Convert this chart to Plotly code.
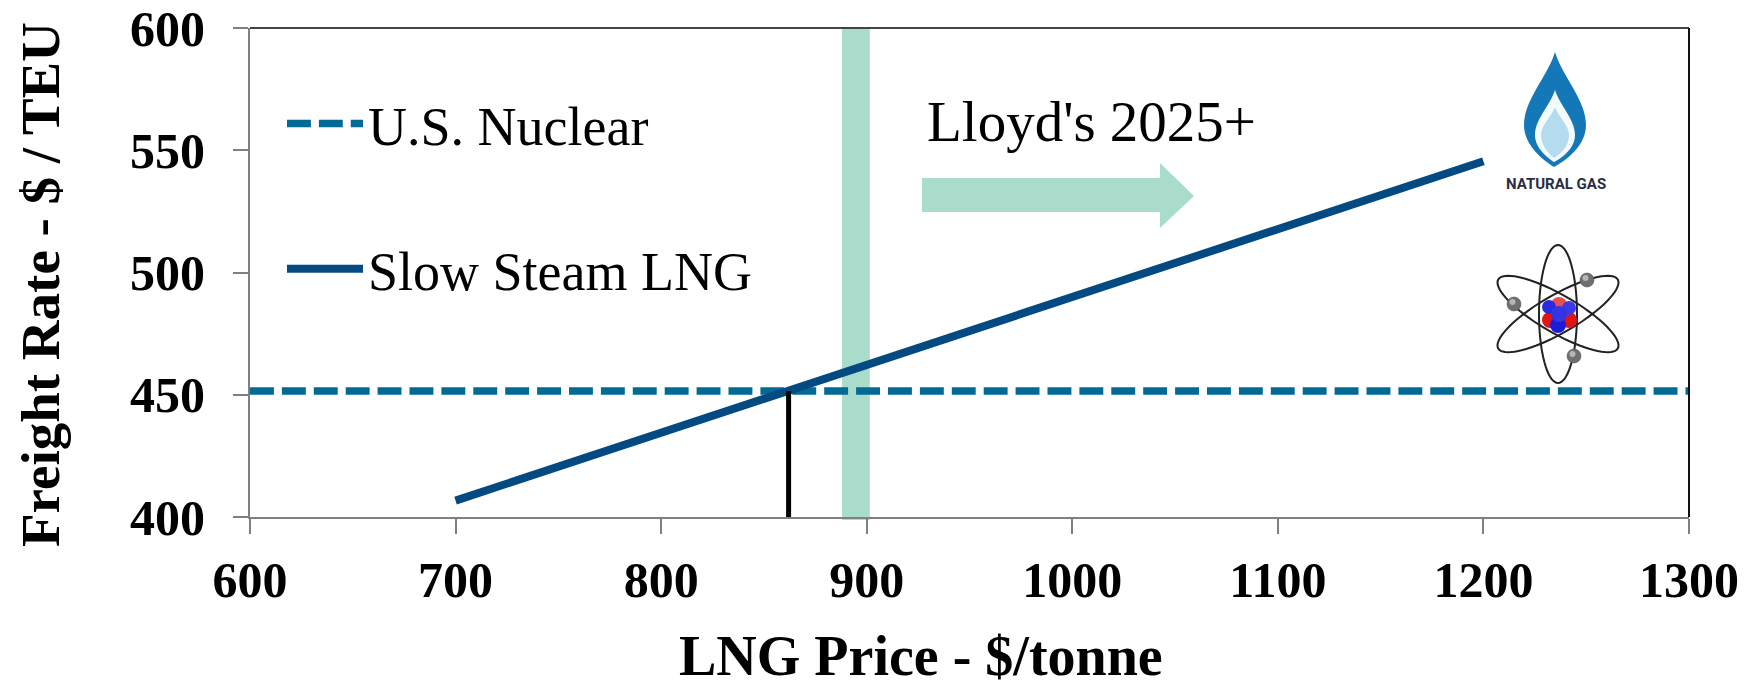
import numpy as np
import plotly.graph_objects as go

W, H = 1748, 687
L, R, T, B = 250, 1689, 28, 517
PAGE = 8  # the page's own margin around the figure

nuclear_x = [600, 1300]
nuclear_y = [451.5, 451.5]
lng_x = [700, 1200]
lng_y = [406.7, 545.5]
cross_x = [862, 862]
cross_y = [398.8, 451.5]
band_x = [888, 901.5]
x_ticks = [600, 700, 800, 900, 1000, 1100, 1200, 1300]
y_ticks = [400, 450, 500, 550, 600]

SERIF = "Liberation Serif"
GREEN = "#a9dccb"


def px(x):
    return (x - L) / (R - L)


def py(y):
    return (B - y) / (B - T)


def path(points):
    out = []
    for item in points:
        cmd, coords = item[0], item[1:]
        pairs = [f"{px(coords[j]):.5f},{py(coords[j + 1]):.5f}" for j in range(0, len(coords), 2)]
        out.append(cmd + " " + " ".join(pairs))
    return " ".join(out) + " Z"


def pshape(d, fill, line="rgba(0,0,0,0)", width=0):
    return dict(type="path", xref="paper", yref="paper", path=d, fillcolor=fill,
                line=dict(color=line, width=width), layer="above")


def drop(cx, top, halfw, widest, bottom):
    return path([
        ("M", cx, top),
        ("C", cx + halfw * 0.25, top + (widest - top) * 0.35, cx + halfw, widest - (widest - top) * 0.35, cx + halfw, widest),
        ("C", cx + halfw, widest + (bottom - widest) * 0.5, cx + halfw * 0.35, bottom - (bottom - widest) * 0.15, cx - 1, bottom),
        ("C", cx - halfw * 0.35, bottom - (bottom - widest) * 0.15, cx - halfw, widest + (bottom - widest) * 0.5, cx - halfw, widest),
        ("C", cx - halfw, widest - (widest - top) * 0.35, cx - halfw * 0.25, top + (widest - top) * 0.35, cx, top),
    ])


def ellipse(cx, cy, a, b, deg):
    t = np.radians(deg)
    pts = []
    for u in np.linspace(0, 2 * np.pi, 73)[:-1]:
        ex, ey = b * np.cos(u), a * np.sin(u)
        pts.append(("M" if not pts else "L", cx + ex * np.cos(t) - ey * np.sin(t), cy + ex * np.sin(t) + ey * np.cos(t)))
    return path(pts)


def circle(cx, cy, r, fill, line="rgba(0,0,0,0)"):
    return dict(type="circle", xref="paper", yref="paper", x0=px(cx - r), x1=px(cx + r),
                y0=py(cy + r), y1=py(cy - r), fillcolor=fill,
                line=dict(color=line, width=0.5), layer="above")


shapes = [
    dict(type="rect", xref="x", yref="paper", x0=band_x[0], x1=band_x[1], y0=py(520), y1=1,
         fillcolor=GREEN, line=dict(width=0), layer="below"),
    dict(type="line", xref="paper", yref="paper", x0=0, x1=1, y0=1, y1=1, line=dict(color="#444444", width=2)),
    dict(type="line", xref="paper", yref="paper", x0=1, x1=1, y0=0, y1=1, line=dict(color="#111111", width=2)),
    pshape(path([("M", 922, 178), ("L", 1160, 178), ("L", 1160, 163), ("L", 1194, 196),
                 ("L", 1160, 228), ("L", 1160, 212), ("L", 922, 212)]), GREEN),
    pshape(drop(1555, 52, 31, 125, 167), "#1478b8"),
    pshape(drop(1555, 90, 20, 135, 162), "#f4fbfe"),
    pshape(drop(1555, 107, 14, 135, 158), "#b5dcee"),
]
for deg in (0, 60, -60):
    shapes.append(pshape(ellipse(1558, 314, 69, 19, deg), "rgba(0,0,0,0)", "#222222", 2))
for cx, cy in ((1587, 280), (1514, 304), (1574, 356)):
    shapes.append(circle(cx, cy, 7, "#6f6f6f", "#444444"))
    shapes.append(circle(cx - 1.5, cy - 2, 3, "#b5b5b5"))
for cx, cy, r, c in ((1550, 320, 8, "#e01414"), (1569, 320, 8, "#e01414"), (1559, 305, 8, "#e85050"),
                     (1549, 307, 7, "#2a2ae0"), (1569, 308, 7, "#3a3ae8"), (1558, 325, 8, "#1c1cd8"),
                     (1559, 314, 8, "#3434e4")):
    shapes.append(circle(cx, cy, r, c))

fig = go.Figure()
fig.add_trace(go.Scatter(x=nuclear_x, y=nuclear_y, mode="lines", name="U.S. Nuclear",
                         line=dict(color="#026a94", width=7.5, dash="23.9px,8px"), legendgroup="a"))
fig.add_trace(go.Scatter(x=lng_x, y=lng_y, mode="lines", name="Slow Steam LNG",
                         line=dict(color="#034a82", width=8), legendgroup="b"))
fig.add_trace(go.Scatter(x=cross_x, y=cross_y, mode="lines", showlegend=False, cliponaxis=False,
                         line=dict(color="#000000", width=5)))

axis = dict(showgrid=False, zeroline=False, showline=True, linecolor="#808080", linewidth=2,
            ticks="outside", ticklen=15, tickwidth=1.5, tickcolor="#808080", automargin=False,
            ticklabeloverflow="allow",
            tickfont=dict(family=SERIF, size=50, color="#000000", weight=700))
fig.update_xaxes(range=[600, 1300], tickvals=x_ticks, ticklabelstandoff=3, **axis)
fig.update_yaxes(range=[400, 600], tickvals=y_ticks, ticklabelstandoff=18, **axis)


def note(text, x, y, size, bold=False, angle=0, family=SERIF, color="#000000"):
    return dict(text=text, xref="paper", yref="paper", x=px(x), y=py(y), showarrow=False,
                xanchor="center", yanchor="middle", textangle=angle,
                font=dict(family=family, size=size, color=color, weight=700 if bold else 400))


fig.update_layout(
    width=W - PAGE, height=H - PAGE, autosize=False, paper_bgcolor="white", plot_bgcolor="white",
    margin=dict(l=L - PAGE, r=W - R, t=T - PAGE, b=H - B, pad=0),
    showlegend=True,
    legend=dict(x=px(282), y=py(82), xanchor="left", yanchor="top", bgcolor="rgba(0,0,0,0)",
                itemwidth=76, tracegroupgap=72, font=dict(family=SERIF, size=54, color="#000000"),
                itemclick=False, itemdoubleclick=False),
    shapes=shapes,
    annotations=[
        note("Lloyd's 2025+", 1091, 121, 57),
        note("LNG Price - $/tonne", 921, 656, 56, bold=True),
        note("Freight Rate - $ / TEU", 40, 285, 55, bold=True, angle=-90),
        note("NATURAL GAS", 1556, 184, 15, bold=True, family="Roboto", color="#2b2d42"),
    ],
)
fig.write_html("out.html")
